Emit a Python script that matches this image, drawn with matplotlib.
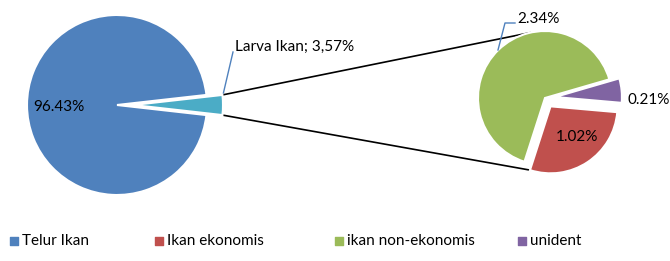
import numpy as np
import matplotlib
matplotlib.use("Agg")
import matplotlib.pyplot as plt

# data
main_labels = ["Telur Ikan", "Larva Ikan"]
main_values = [96.43, 3.57]
sub_labels = ["unident", "ikan non-ekonomis", "Ikan ekonomis"]
sub_values = [0.21, 2.34, 1.02]
legend_labels = ["Telur Ikan", "Ikan ekonomis", "ikan non-ekonomis", "unident"]

BLUE, TEAL, RED, GREEN, PURPLE = "#4F81BD", "#4BACC6", "#C0504D", "#9BBB59", "#8064A2"
legend_colors = [BLUE, RED, GREEN, PURPLE]

plt.rcParams["font.family"] = ["Lato", "DejaVu Sans"]
W, H = 670, 261
fig = plt.figure(figsize=(W / 100, H / 100), dpi=100)
ax = fig.add_axes([0, 0, 1, 1])

# left pie, larva wedge centred on 0 degrees (explode is in axis units here)
start = main_values[1] / sum(main_values) * 360 / 2
w_main, _ = ax.pie(main_values, colors=[BLUE, TEAL], startangle=start,
                   explode=[0, 16], radius=90, center=(117, 156), frame=True,
                   wedgeprops=dict(edgecolor="white", linewidth=1.5))

# right pie
w_sub, _ = ax.pie(sub_values, colors=[PURPLE, GREEN, RED], startangle=-5,
                  explode=[10, 0, 10], radius=67, center=(545, 163), frame=True,
                  wedgeprops=dict(edgecolor="white", linewidth=1.5))
ax.set_xlim(0, W)
ax.set_ylim(0, H)
ax.set_aspect("equal")
ax.axis("off")


def corner(w, theta):
    cx, cy = w.center
    t = np.deg2rad(theta)
    return cx + w.r * np.cos(t), cy + w.r * np.sin(t)


larva = w_main[1]
p_top = corner(larva, larva.theta2)
p_bot = corner(larva, larva.theta1)
green, red = w_sub[1], w_sub[2]
q_top = corner(green, 103)
q_bot = corner(red, red.theta1)
ax.plot([p_top[0], q_top[0]], [p_top[1], q_top[1]], color="black", lw=1.2, zorder=0)
ax.plot([p_bot[0], q_bot[0]], [p_bot[1], q_bot[1]], color="black", lw=1.2, zorder=0)

# labels
fs = 11
ax.text(33, 154, f"{main_values[0]:.2f}%", fontsize=fs, va="center", ha="left")
ax.plot([p_top[0] + 1, 233], [p_top[1] + 2, 209], color=BLUE, lw=1)
ax.text(235, 214, f"{main_labels[1]}; {main_values[1]:.2f}%".replace(".", ","),
        fontsize=fs, va="center", ha="left")
ax.plot([498, 505, 515], [211, 238, 238], color=BLUE, lw=1)
ax.text(517, 242, f"{sub_values[1]:.2f}%", fontsize=fs, va="center", ha="left")
ax.text(627, 161, f"{sub_values[0]:.2f}%", fontsize=fs, va="center", ha="left")
ax.text(556, 124, f"{sub_values[2]:.2f}%", fontsize=fs, va="center", ha="left")

# legend
key_x = [10, 155, 335, 518]
for x, lab, c in zip(key_x, legend_labels, legend_colors):
    ax.scatter([x + 4], [20], marker="s", s=30, color=c, clip_on=False)
    ax.text(x + 12, 20, lab, fontsize=fs, va="center", ha="left")

fig.savefig("out.png", dpi=100)
